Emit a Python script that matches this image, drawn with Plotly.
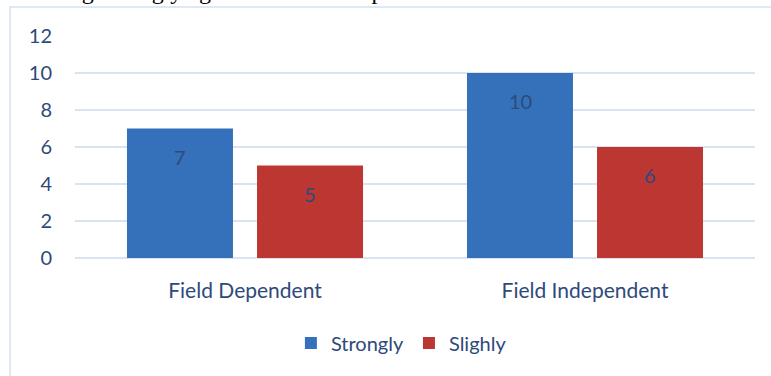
import plotly.graph_objects as go

categories = ["Field Dependent", "Field Independent"]
strongly = [7, 10]
slighly = [5, 6]
series_names = ["Strongly", "Slighly"]
y_ticks = [0, 2, 4, 6, 8, 10, 12]

text_color = "#2E4A7A"
font_family = "Lato, Open Sans, sans-serif"

fig = go.Figure()
fig.add_trace(go.Bar(
    name=series_names[0], x=categories, y=strongly,
    marker=dict(color="#3471BA", line=dict(width=0)),
))
fig.add_trace(go.Bar(
    name=series_names[1], x=categories, y=slighly,
    marker=dict(color="#BC3632", line=dict(width=0)),
))

# value labels near the top of each bar
for vals, shift in ((strongly, -65), (slighly, 65)):
    for c, v in zip(categories, vals):
        fig.add_annotation(x=c, y=v, xref="x", yref="y", text=str(v),
                           showarrow=False, xshift=shift, yshift=-28,
                           font=dict(size=20, color=text_color, family=font_family))

# chart frame
fig.add_shape(type="rect", xref="paper", yref="paper",
              x0=-0.0956, x1=1.05, y0=-0.6, y1=1.1306,
              line=dict(color="#D5E2F2", width=1.5), fillcolor="rgba(0,0,0,0)", layer="below")

# clipped caption of the surrounding document
fig.add_annotation(xref="paper", yref="paper", x=-0.02, y=1.142, xanchor="left", yanchor="bottom",
                   yshift=-2,
                   text="ing Strongly agree with the component", showarrow=False,
                   font=dict(size=24, color="#000000", family="Liberation Serif, serif"))

fig.update_layout(
    width=771, height=376,
    margin=dict(l=75, r=16, t=36, b=118),
    paper_bgcolor="white", plot_bgcolor="white",
    barmode="group", bargap=0.235, bargroupgap=0.185,
    showlegend=True,
    legend=dict(orientation="h", x=0.48, xanchor="center", y=-0.383, yanchor="middle",
                font=dict(size=20, color=text_color, family=font_family),
                itemwidth=30, traceorder="normal"),
    xaxis=dict(showgrid=False, showline=False, ticks="", ticklabelstandoff=18,
               tickfont=dict(size=21, color=text_color, family=font_family)),
    yaxis=dict(range=[0, 12], tickvals=y_ticks, showgrid=True, gridcolor="#D9E3F1", gridwidth=1.5,
               zeroline=True, zerolinecolor="#D9E3F1", zerolinewidth=1.5,
               showline=False, ticks="", ticklabelstandoff=22,
               tickfont=dict(size=20, color=text_color, family=font_family)),
)

fig.write_html("out.html")
